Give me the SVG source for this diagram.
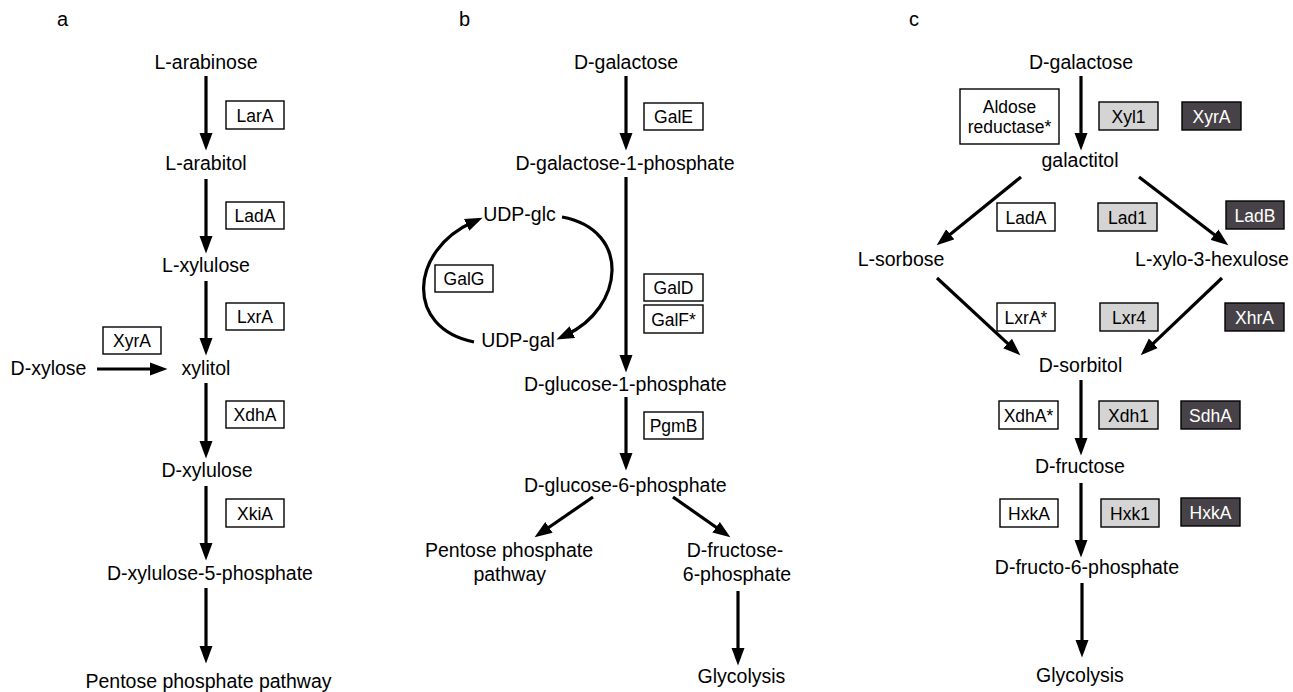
<svg xmlns="http://www.w3.org/2000/svg" width="1293" height="692" viewBox="0 0 1293 692">
<defs>
<style>
text{font-family:"Liberation Sans",Arial,sans-serif;fill:#000}
.t{font-size:19.5px;text-anchor:middle}
.p{font-size:20px}
.bt{font-size:17.5px;text-anchor:middle}
.w{fill:#fff}
.box{fill:#fff;stroke:#000;stroke-width:1.4}
.lg{fill:#d4d4d4;stroke:#000;stroke-width:1.4}
.dk{fill:#474247;stroke:#000;stroke-width:1.4}
.ar{fill:none;stroke:#000;stroke-width:3.2;marker-end:url(#ah)}
</style>
<marker id="ah" markerUnits="userSpaceOnUse" markerWidth="18" markerHeight="14" viewBox="0 0 18 14" refX="7" refY="7" orient="auto">
<path d="M0,0.5 L17.5,7 L0,13.5 z" fill="#000"/>
</marker>
</defs>
<rect width="1293" height="692" fill="#fff"/>

<text class="p" x="57" y="26">a</text>
<text class="p" x="459" y="26">b</text>
<text class="p" x="909" y="26">c</text>

<g id="connectors">
<!-- panel a -->
<line class="ar" x1="206" y1="76" x2="206" y2="140"/>
<line class="ar" x1="206" y1="179" x2="206" y2="243"/>
<line class="ar" x1="206" y1="281" x2="206" y2="345"/>
<line class="ar" x1="206" y1="383" x2="206" y2="448"/>
<line class="ar" x1="206" y1="486" x2="206" y2="550"/>
<line class="ar" x1="206" y1="588" x2="206" y2="653"/>
<line class="ar" x1="97" y1="369" x2="157" y2="369"/>
<!-- panel b -->
<line class="ar" x1="626" y1="76" x2="626" y2="140"/>
<line class="ar" x1="626" y1="177" x2="626" y2="362"/>
<line class="ar" x1="626" y1="397" x2="626" y2="460"/>
<line class="ar" x1="593" y1="497" x2="543.2" y2="531.3"/>
<line class="ar" x1="673" y1="497" x2="721.8" y2="531.3"/>
<line class="ar" x1="738" y1="591" x2="738" y2="655"/>
<path class="ar" d="M474,342 C404,328 410,250 473,222"/>
<path class="ar" d="M562,217 C632,230 624,308 566,335"/>
<!-- panel c -->
<line class="ar" x1="1081" y1="76" x2="1081" y2="140"/>
<line class="ar" x1="1021" y1="177" x2="944.8" y2="238.7"/>
<line class="ar" x1="1139" y1="177" x2="1220" y2="238.9"/>
<line class="ar" x1="937" y1="278" x2="1012.7" y2="348.2"/>
<line class="ar" x1="1222" y1="278" x2="1148.3" y2="348.1"/>
<line class="ar" x1="1081" y1="380" x2="1081" y2="445"/>
<line class="ar" x1="1081" y1="483" x2="1081" y2="547"/>
<line class="ar" x1="1082" y1="583" x2="1082" y2="647"/>
</g>

<!-- panel a nodes -->
<g id="a-larabinose"><text class="t" x="206" y="69">L-arabinose</text></g>
<g id="a-larabitol"><text class="t" x="206" y="170">L-arabitol</text></g>
<g id="a-lxylulose"><text class="t" x="206" y="272">L-xylulose</text></g>
<g id="a-dxylose"><text class="t" x="48.5" y="375">D-xylose</text></g>
<g id="a-xylitol"><text class="t" x="206" y="375">xylitol</text></g>
<g id="a-dxylulose"><text class="t" x="207" y="477">D-xylulose</text></g>
<g id="a-dx5p"><text class="t" x="210" y="580">D-xylulose-5-phosphate</text></g>
<g id="a-ppp"><text class="t" x="208.5" y="688">Pentose phosphate pathway</text></g>
<g id="a-lara"><rect class="box" x="226" y="101" width="58" height="28"/><text class="bt" x="255" y="121.5">LarA</text></g>
<g id="a-lada"><rect class="box" x="226" y="202" width="58" height="27"/><text class="bt" x="255" y="222">LadA</text></g>
<g id="a-lxra"><rect class="box" x="226" y="303" width="58" height="27"/><text class="bt" x="255" y="323">LxrA</text></g>
<g id="a-xyra"><rect class="box" x="103" y="327" width="58" height="27"/><text class="bt" x="132" y="347">XyrA</text></g>
<g id="a-xdha"><rect class="box" x="226" y="401" width="58" height="27"/><text class="bt" x="255" y="421">XdhA</text></g>
<g id="a-xkia"><rect class="box" x="226" y="499" width="58" height="28"/><text class="bt" x="255" y="519.5">XkiA</text></g>

<!-- panel b nodes -->
<g id="b-dgal"><text class="t" x="626" y="69">D-galactose</text></g>
<g id="b-dgal1p"><text class="t" x="625" y="170">D-galactose-1-phosphate</text></g>
<g id="b-udpglc"><text class="t" x="519.5" y="221">UDP-glc</text></g>
<g id="b-udpgal"><text class="t" x="518" y="347">UDP-gal</text></g>
<g id="b-dglc1p"><text class="t" x="625.3" y="391">D-glucose-1-phosphate</text></g>
<g id="b-dglc6p"><text class="t" x="625.3" y="492">D-glucose-6-phosphate</text></g>
<g id="b-ppp"><text class="t" x="509" y="557">Pentose phosphate</text><text class="t" x="509.7" y="581">pathway</text></g>
<g id="b-f6p"><text class="t" x="735" y="557">D-fructose-</text><text class="t" x="737" y="581">6-phosphate</text></g>
<g id="b-glyc"><text class="t" x="741.5" y="683">Glycolysis</text></g>
<g id="b-gale"><rect class="box" x="644" y="103" width="59" height="27"/><text class="bt" x="673.5" y="123">GalE</text></g>
<g id="b-galg"><rect class="box" x="435" y="265" width="58" height="27"/><text class="bt" x="464" y="285">GalG</text></g>
<g id="b-gald"><rect class="box" x="644" y="274" width="59" height="27"/><text class="bt" x="673.5" y="294">GalD</text></g>
<g id="b-galf"><rect class="box" x="644" y="305" width="59" height="28"/><text class="bt" x="673.5" y="325.5">GalF*</text></g>
<g id="b-pgmb"><rect class="box" x="644" y="412" width="59" height="27"/><text class="bt" x="673.5" y="432">PgmB</text></g>

<!-- panel c nodes -->
<g id="c-dgal"><text class="t" x="1081" y="69">D-galactose</text></g>
<g id="c-galactitol"><text class="t" x="1080" y="167">galactitol</text></g>
<g id="c-lsorbose"><text class="t" x="901" y="266">L-sorbose</text></g>
<g id="c-lxylo"><text class="t" x="1212" y="266">L-xylo-3-hexulose</text></g>
<g id="c-dsorbitol"><text class="t" x="1080.5" y="372">D-sorbitol</text></g>
<g id="c-dfructose"><text class="t" x="1080" y="473">D-fructose</text></g>
<g id="c-df6p"><text class="t" x="1087" y="574">D-fructo-6-phosphate</text></g>
<g id="c-glyc"><text class="t" x="1080" y="682">Glycolysis</text></g>
<g id="c-aldose"><rect class="box" x="960" y="89" width="99" height="55"/><text class="bt" x="1009.5" y="113">Aldose</text><text class="bt" x="1009.5" y="133">reductase*</text></g>
<g id="c-xyl1"><rect class="lg" x="1099" y="102" width="59" height="28"/><text class="bt" x="1128.5" y="122.5">Xyl1</text></g>
<g id="c-xyra"><rect class="dk" x="1182" y="102" width="59" height="28"/><text class="bt w" x="1211.5" y="122.5">XyrA</text></g>
<g id="c-lada"><rect class="box" x="997" y="203" width="58" height="28"/><text class="bt" x="1026" y="223.5">LadA</text></g>
<g id="c-lad1"><rect class="lg" x="1098" y="203" width="59" height="28"/><text class="bt" x="1127.5" y="223.5">Lad1</text></g>
<g id="c-ladb"><rect class="dk" x="1226" y="201" width="58" height="28"/><text class="bt w" x="1255" y="221.5">LadB</text></g>
<g id="c-lxra"><rect class="box" x="997" y="303" width="58" height="28"/><text class="bt" x="1026" y="323.5">LxrA*</text></g>
<g id="c-lxr4"><rect class="lg" x="1100" y="303" width="58" height="28"/><text class="bt" x="1129" y="323.5">Lxr4</text></g>
<g id="c-xhra"><rect class="dk" x="1225" y="303" width="59" height="28"/><text class="bt w" x="1254.5" y="323.5">XhrA</text></g>
<g id="c-xdha"><rect class="box" x="999" y="401" width="59" height="28"/><text class="bt" x="1028.5" y="421.5">XdhA*</text></g>
<g id="c-xdh1"><rect class="lg" x="1099" y="401" width="59" height="28"/><text class="bt" x="1128.5" y="421.5">Xdh1</text></g>
<g id="c-sdha"><rect class="dk" x="1181" y="401" width="59" height="28"/><text class="bt w" x="1210.5" y="421.5">SdhA</text></g>
<g id="c-hxka"><rect class="box" x="1000" y="499" width="58" height="28"/><text class="bt" x="1029" y="519.5">HxkA</text></g>
<g id="c-hxk1"><rect class="lg" x="1101" y="499" width="58" height="28"/><text class="bt" x="1130" y="519.5">Hxk1</text></g>
<g id="c-hxka2"><rect class="dk" x="1181" y="498" width="59" height="28"/><text class="bt w" x="1210.5" y="518.5">HxkA</text></g>
</svg>
